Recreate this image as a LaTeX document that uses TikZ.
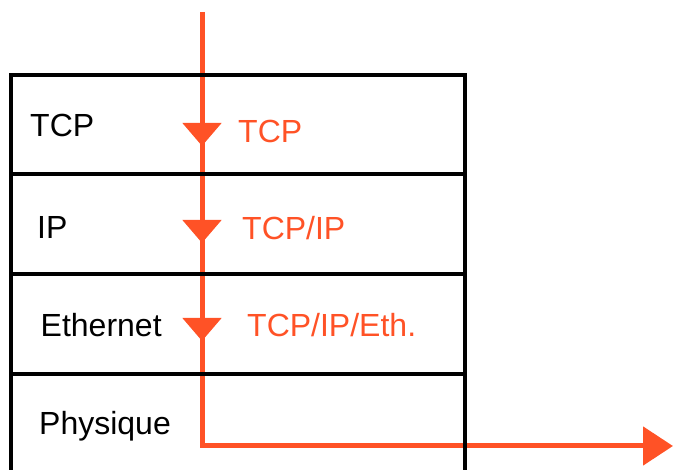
\documentclass[tikz,border=0pt]{standalone}
\usepackage{fontspec}
\setmainfont{Liberation Sans}
\usetikzlibrary{arrows.meta,decorations.markings}
\definecolor{flow}{RGB}{255,82,38}
\tikzset{
  boxline/.style={draw=black,line width=4pt},
  lbl/.style={anchor=base west,inner sep=0pt,font=\fontsize{32}{38}\selectfont},
  redlbl/.style={lbl,text=flow},
  flowline/.style={draw=flow,line width=5pt,
    -{Triangle[width=38pt,length=30pt]},
    postaction={decorate},
    decoration={markings,
      mark=at position 134pt with {\arrow{Triangle[width=38pt,length=23pt]}},
      mark=at position 231pt with {\arrow{Triangle[width=38pt,length=23pt]}},
      mark=at position 329pt with {\arrow{Triangle[width=38pt,length=23pt]}}}}
}
\begin{document}
\begin{tikzpicture}[x=1pt,y=-1pt]
\useasboundingbox (0,0) rectangle (673,470);
% flow path
\coordinate (top) at (202,12);
\coordinate (corner) at (202,446);
\coordinate (end) at (673,446);
\draw[flowline] (top) -- (corner) -- (end);
% stack
\coordinate (tl) at (11,75);
\coordinate (tr) at (465,75);
\coordinate (bl) at (11,472);
\coordinate (br) at (465,472);
\draw[boxline,line cap=rect] (bl) -- (tl) -- (tr) -- (br);
\coordinate (d1l) at (11,174); \coordinate (d1r) at (465,174);
\coordinate (d2l) at (11,274.5); \coordinate (d2r) at (465,274.5);
\coordinate (d3l) at (11,374.5); \coordinate (d3r) at (465,374.5);
\draw[boxline] (d1l) -- (d1r);
\draw[boxline] (d2l) -- (d2r);
\draw[boxline] (d3l) -- (d3r);
% labels
\node[lbl] (ltcp) at (30,137) {TCP};
\node[lbl] (lip) at (37,239) {IP};
\node[lbl] (leth) at (40.5,337) {Ethernet};
\node[lbl] (lphy) at (39,435) {Physique};
\node[redlbl] (rtcp) at (238,143) {TCP};
\node[redlbl] (rip) at (242,240) {TCP/IP};
\node[redlbl] (reth) at (247,337) {TCP/IP/Eth.};
\end{tikzpicture}
\end{document}
